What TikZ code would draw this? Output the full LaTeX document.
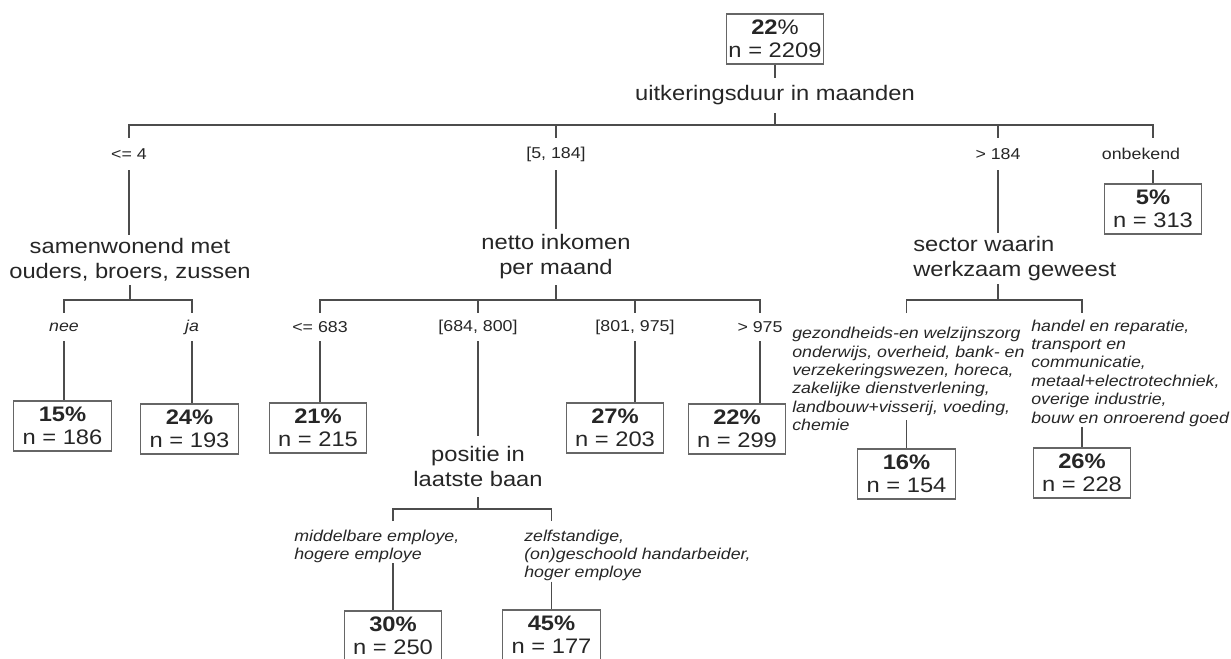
\documentclass[tikz,border=0pt]{standalone}
\usepackage{fontspec}
\setmainfont{Liberation Sans}[FakeStretch=1.13]
\newcommand{\boxfont}{\fontsize{15.75}{17.25}\selectfont}
\newcommand{\splitfont}{\fontsize{15.75}{18.75}\selectfont}
\newcommand{\edgefont}{\fontsize{11.8}{13.8}\selectfont}

\tikzset{
  leaf/.style={draw=black!60, line width=0.8pt, minimum width=73pt, minimum height=37.5pt,
    inner sep=0pt, align=center, font=\boxfont, text=black!85},
  split/.style={inner sep=0pt, align=center, font=\splitfont, text=black!85},
  edgelab/.style={inner sep=0pt, font=\edgefont, text=black!85},
  edgetxt/.style={inner sep=0pt, align=left, anchor=north west, font=\edgefont\itshape, text=black!85},
  branch/.style={draw=black!70, line width=0.8pt},
}

\begin{document}
\begin{tikzpicture}[x=0.75pt, y=-0.75pt]
\useasboundingbox (0,0) rectangle (1231,658);
\clip (0,0) rectangle (1231,658);

% root and first split
\node[leaf] (root) at (775,39) {\textbf{22}\%\\n = 2209};
\node[split, minimum height=26.25pt] (uitk) at (775,95.5) {uitkeringsduur in maanden};
\coordinate (bar1) at (775,125);

\node[edgelab, minimum height=24pt] (le4) at (129,154) {<= 4};
\node[edgelab, minimum height=24pt] (l5) at (556,154) {[5, 184]};
\node[edgelab, minimum height=24pt] (lg184) at (998,154) {> 184};
\node[edgelab, minimum height=24pt] (lonb) at (1141,154) {onbekend};

\node[split, minimum height=37.5pt] (samenw) at (130,260) {samenwonend met\\ouders, broers, zussen};
\node[split, minimum height=42pt] (netto) at (556,257) {netto inkomen\\per maand};
\node[split, align=left, anchor=west, minimum height=38.25pt] (sector) at (913,258.5) {sector waarin\\werkzaam geweest};
\node[leaf] (box5) at (1153,209) {\textbf{5\%}\\n = 313};

\draw[branch] (root.south) -- (root.south |- uitk.north);
\draw[branch] (uitk.south) -- (bar1);
\draw[branch] (le4.north) -- (le4.north |- bar1) -- (box5.north |- bar1) -- (box5.north |- lonb.north);
\draw[branch] (l5.north) -- (l5.north |- bar1);
\draw[branch] (lg184.north) -- (lg184.north |- bar1);
\draw[branch] (le4.south) -- (le4.south |- samenw.north);
\draw[branch] (l5.south) -- (l5.south |- netto.north);
\draw[branch] (lg184.south) -- (lg184.south |- sector.north);
\draw[branch] (box5.north |- lonb.south) -- (box5.north);

% samenwonend
\coordinate (bar2) at (130,300);
\node[edgelab, font=\edgefont\itshape, minimum height=21pt] (lnee) at (64,327) {nee};
\node[edgelab, font=\edgefont\itshape, minimum height=21pt] (lja) at (192,327) {ja};
\node[leaf] (box15) at (62.5,426) {\textbf{15\%}\\n = 186};
\node[leaf] (box24) at (189.5,429) {\textbf{24\%}\\n = 193};

\draw[branch] (samenw.south) -- (bar2);
\draw[branch] (lnee.north) -- (lnee.north |- bar2) -- (lja.north |- bar2) -- (lja.north);
\draw[branch] (lnee.south) -- (lnee.south |- box15.north);
\draw[branch] (lja.south) -- (lja.south |- box24.north);

% netto inkomen
\coordinate (bar3) at (556,300);
\node[edgelab, minimum height=21pt] (l683) at (320,327) {<= 683};
\node[edgelab, minimum height=21pt] (l684) at (478,327) {[684, 800]};
\node[edgelab, minimum height=21pt] (l801) at (635,327) {[801, 975]};
\node[edgelab, minimum height=21pt] (l975) at (760,327) {> 975};
\node[leaf] (box21) at (318,428) {\textbf{21\%}\\n = 215};
\node[leaf] (box27) at (615,428) {\textbf{27\%}\\n = 203};
\node[leaf] (box22) at (737,429) {\textbf{22\%}\\n = 299};
\node[split, minimum height=45.75pt] (positie) at (478,466.5) {positie in\\laatste baan};

\draw[branch] (netto.south) -- (bar3);
\draw[branch] (l683.north) -- (l683.north |- bar3) -- (l975.north |- bar3) -- (l975.north);
\draw[branch] (l684.north) -- (l684.north |- bar3);
\draw[branch] (l801.north) -- (l801.north |- bar3);
\draw[branch] (l683.south) -- (l683.south |- box21.north);
\draw[branch] (l684.south) -- (l684.south |- positie.north);
\draw[branch] (l801.south) -- (l801.south |- box27.north);
\draw[branch] (l975.south) -- (l975.south |- box22.north);

% positie in laatste baan
\coordinate (bar4) at (478,509);
\coordinate (tk4) at (0,521);
\node[edgetxt] (lmid) at (294,529.5) {middelbare employe,\\hogere employe};
\node[edgetxt] (lzelf) at (524,529.5) {zelfstandige,\\(on)geschoold handarbeider,\\hoger employe};
\node[leaf] (box30) at (393,636) {\textbf{30\%}\\n = 250};
\node[leaf] (box45) at (551.5,635) {\textbf{45\%}\\n = 177};

\draw[branch] (positie.south) -- (bar4);
\draw[branch] (box30.north |- tk4) -- (box30.north |- bar4) -- (box45.north |- bar4) -- (box45.north |- tk4);
\draw[branch] (box30.north |- lmid.south) -- (box30.north);
\draw[branch] (box45.north |- lzelf.south) -- (box45.north);

% sector
\coordinate (bar5) at (998,300);
\coordinate (tk5) at (0,313);
\node[edgetxt] (lgez) at (792,327) {gezondheids-en welzijnszorg\\onderwijs, overheid, bank- en\\verzekeringswezen, horeca,\\zakelijke dienstverlening,\\landbouw+visserij, voeding,\\chemie};
\node[edgetxt] (lhandel) at (1031,319.5) {handel en reparatie,\\transport en\\communicatie,\\metaal+electrotechniek,\\overige industrie,\\bouw en onroerend goed};
\node[leaf] (box16) at (906.5,474) {\textbf{16\%}\\n = 154};
\node[leaf] (box26) at (1082,473) {\textbf{26\%}\\n = 228};

\draw[branch] (lg184.south |- sector.south) -- (bar5);
\draw[branch] (box16.north |- tk5) -- (box16.north |- bar5) -- (box26.north |- bar5) -- (box26.north |- tk5);
\draw[branch, shorten <=-8pt] (box16.north |- lgez.south) -- (box16.north);
\draw[branch] (box26.north |- lhandel.south) -- (box26.north);
\end{tikzpicture}
\end{document}
